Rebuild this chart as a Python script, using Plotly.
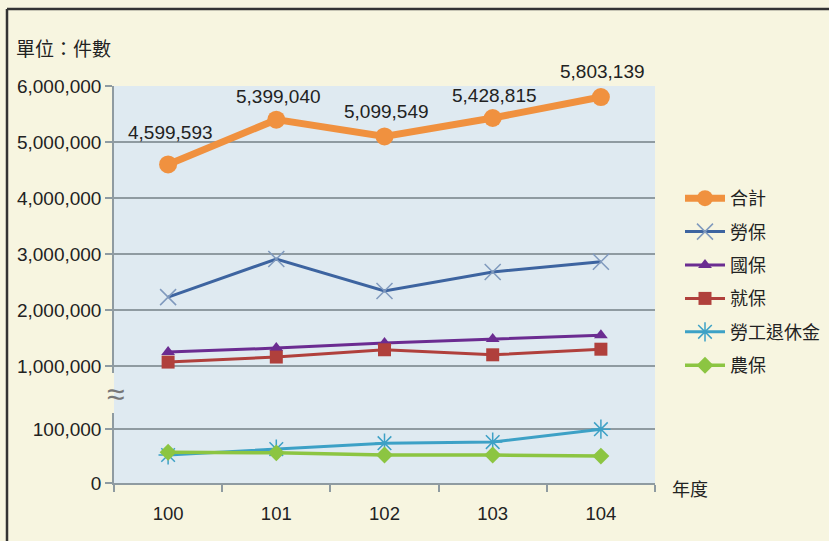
import plotly.graph_objects as go

years = ["100", "101", "102", "103", "104"]
total = [4599593, 5399040, 5099549, 5428815, 5803139]
labor = [2230000, 2910000, 2340000, 2680000, 2860000]
national = [1250000, 1320000, 1410000, 1480000, 1550000]
employment = [1070000, 1160000, 1290000, 1200000, 1300000]
pension = [52000, 63000, 74000, 76000, 100000]
farmer = [57000, 56000, 52000, 52000, 50000]
upper_ticks = [1000000, 2000000, 3000000, 4000000, 5000000, 6000000]
lower_ticks = [0, 100000]

FONT = "Liberation Sans, Arial, Noto Sans CJK TC, sans-serif"
CJK = "Noto Sans CJK TC, sans-serif"
GRID = "#8f9ba1"

W, H = 829, 541
L, R, T, B = 114, 655, 86, 483
pw, ph = R - L, B - T


def px(x):
    return (x - L) / pw


def py(y):
    return (B - y) / ph


fig = go.Figure()


def add(name, vals, axis, line, marker):
    fig.add_trace(go.Scatter(x=years, y=vals, name=name, yaxis=axis, mode="lines+markers",
                             legendgroup=name, line=line, marker=marker))


add("合計", total, "y2", dict(color="#f0913f", width=7),
    dict(symbol="circle", size=18, color="#f0913f"))
add("勞保", labor, "y2", dict(color="#3d64a0", width=3),
    dict(symbol="x-thin", size=16, line=dict(color="#7f99bd", width=1.5)))
add("國保", national, "y2", dict(color="#6b2c91", width=3),
    dict(symbol="triangle-up", size=12, color="#6b2c91"))
add("就保", employment, "y2", dict(color="#b0403c", width=3),
    dict(symbol="square", size=13, color="#b0403c"))
add("勞工退休金", pension, "y", dict(color="#3da1c6", width=3),
    dict(symbol="asterisk-open", size=16, line=dict(color="#56aad0", width=1.5)))
add("農保", farmer, "y", dict(color="#8cc542", width=3.5),
    dict(symbol="diamond", size=13, color="#8cc542"))

annotations = []
shifts = [32, 23, 25, 22, 26]
for i, (v, s) in enumerate(zip(total, shifts)):
    annotations.append(dict(x=i, y=v, xref="x", yref="y2", text=f"{v:,}", showarrow=False,
                            yshift=s, xshift=2, font=dict(family=FONT, size=19, color="#222")))
annotations.append(dict(x=px(14), y=py(47), xref="paper", yref="paper", xanchor="left", yanchor="middle",
                        text="單位：件數", showarrow=False, font=dict(family=CJK, size=19, color="#222")))
annotations.append(dict(x=px(690), y=py(488), xref="paper", yref="paper", xanchor="center", yanchor="middle",
                        text="年度", showarrow=False, font=dict(family=CJK, size=18, color="#222")))
annotations.append(dict(x=px(116), y=py(394), xref="paper", yref="paper", xanchor="center", yanchor="middle",
                        text="≈", showarrow=False, font=dict(family=FONT, size=32, color="#777")))

shapes = [
    dict(type="rect", xref="paper", yref="paper", x0=0, x1=1, y0=0, y1=1,
         fillcolor="#dfeaf1", line=dict(width=0), layer="below"),
    dict(type="line", xref="paper", yref="paper", x0=px(7), x1=px(829), y0=py(9), y1=py(9),
         line=dict(color="#333", width=2.5)),
    dict(type="line", xref="paper", yref="paper", x0=px(7), x1=px(7), y0=py(9), y1=py(541),
         line=dict(color="#333", width=2.5)),
]

fig.update_layout(
    width=W, height=H,
    margin=dict(l=L, r=W - R, t=T, b=H - B, autoexpand=False),
    paper_bgcolor="#f7f5e0",
    plot_bgcolor="rgba(0,0,0,0)",
    font=dict(family=FONT, size=19, color="#222"),
    showlegend=True,
    legend=dict(xref="container", yref="container", x=680 / W, y=1 - 180 / H, xanchor="left", yanchor="top",
                font=dict(family=CJK, size=18, color="#222"), traceorder="grouped",
                bgcolor="rgba(0,0,0,0)", itemwidth=40, tracegroupgap=7),
    xaxis=dict(type="category", range=[-0.5, 4.5], anchor="y", showline=True, linecolor=GRID, linewidth=1.5,
               ticks="outside", ticklen=7, tickcolor=GRID, tickwidth=1.5, tickson="boundaries",
               showgrid=False, ticklabelstandoff=13, tickfont=dict(size=18.5)),
    yaxis=dict(domain=[0, py(413)], range=[0, 130000], tickvals=lower_ticks,
               ticktext=[f"{v:,}" for v in lower_ticks], showline=True, linecolor=GRID, linewidth=1.5,
               ticks="outside", ticklen=7, tickcolor=GRID, tickwidth=1.5,
               showgrid=True, gridcolor=GRID, gridwidth=1.5, zeroline=False, tickfont=dict(size=19)),
    yaxis2=dict(domain=[py(373), 1], range=[875000, 6000000], tickvals=upper_ticks,
                ticktext=[f"{v:,}" for v in upper_ticks], showline=True, linecolor=GRID, linewidth=1.5,
                ticks="outside", ticklen=7, tickcolor=GRID, tickwidth=1.5, anchor="x",
                showgrid=True, gridcolor=GRID, gridwidth=1.5, zeroline=False, tickfont=dict(size=19)),
    annotations=annotations,
    shapes=shapes,
)

fig.write_html("out.html")
